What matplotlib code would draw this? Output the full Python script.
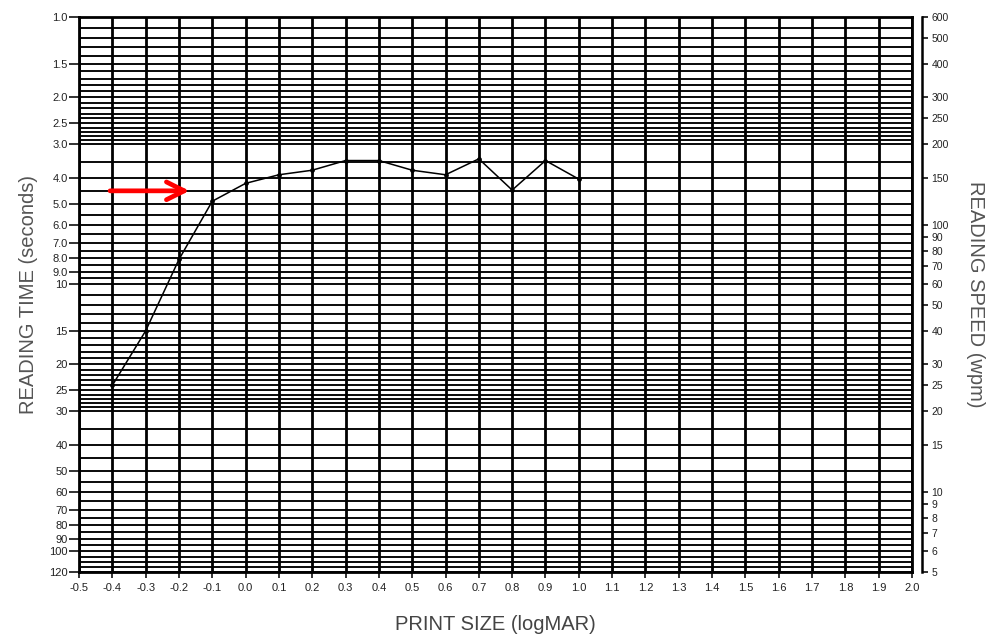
import numpy as np
import matplotlib.pyplot as plt
from matplotlib.ticker import FixedLocator, FixedFormatter, NullLocator

plt.rcParams['font.family'] = ['Liberation Sans', 'DejaVu Sans']

# print size (logMAR) and reading time (s) for each sentence read
print_size = [-0.4, -0.3, -0.2, -0.1, 0.0, 0.1, 0.2, 0.3, 0.4, 0.5, 0.6, 0.7, 0.8, 0.9, 1.0]
reading_time = [24.0, 15.0, 8.1, 4.9, 4.2, 3.9, 3.75, 3.45, 3.45, 3.75, 3.9, 3.4, 4.45, 3.45, 4.05]

time_ticks = [1.0, 1.5, 2.0, 2.5, 3.0, 4.0, 5.0, 6.0, 7.0, 8.0, 9.0, 10, 15, 20, 25, 30,
              40, 50, 60, 70, 80, 90, 100, 120]
time_labels = ['1.0', '1.5', '2.0', '2.5', '3.0', '4.0', '5.0', '6.0', '7.0', '8.0', '9.0',
               '10', '15', '20', '25', '30', '40', '50', '60', '70', '80', '90', '100', '120']
speed_ticks = [600, 500, 400, 300, 250, 200, 150, 100, 90, 80, 70, 60, 50, 40, 30, 25,
               20, 15, 10, 9, 8, 7, 6, 5]
logmar_ticks = np.round(np.arange(-0.5, 2.01, 0.1), 1)

# horizontal rules of the chart form
rules = np.concatenate([np.arange(1.0, 3.0, 0.1), np.arange(3.0, 10.0, 0.5),
                        np.arange(10, 30, 1), np.arange(30, 121, 5)])

fig = plt.figure(figsize=(9.92, 6.34), dpi=100)
ax = fig.add_axes([0.0796, 0.0978, 0.8398, 0.8754])

for t in rules:
    ax.axhline(t, color='black', lw=1.35, zorder=1)
for x in logmar_ticks:
    ax.axvline(x, color='black', lw=2.0, zorder=1)

ax.plot(print_size, reading_time, color='black', lw=1.1, marker='o', ms=2.4, zorder=3)

ax.set_yscale('log')
ax.set_ylim(120, 1)
ax.set_xlim(-0.5, 2.0)
ax.yaxis.set_major_locator(FixedLocator(time_ticks))
ax.yaxis.set_major_formatter(FixedFormatter(time_labels))
ax.yaxis.set_minor_locator(NullLocator())
ax.set_xticks(logmar_ticks)
ax.set_xticklabels(['%.1f' % (v + 0.0) if abs(v) > 1e-9 else '0.0' for v in logmar_ticks])
ax.tick_params(axis='y', direction='out', length=7, width=1.3, pad=1, labelsize=8, colors='#222')
ax.tick_params(axis='x', direction='out', length=4, width=1.3, pad=4, labelsize=8, colors='#222')
for s in ax.spines.values():
    s.set_linewidth(2.0)

ax.set_ylabel('READING TIME (seconds)', fontsize=14.5, color='#555', labelpad=8)
ax.set_xlabel('PRINT SIZE (logMAR)', fontsize=14.5, color='#444', labelpad=16)

# reading speed scale, 10 words per sentence
ax2 = ax.twinx()
ax2.set_yscale('log')
ax2.set_ylim(5, 600)
ax2.yaxis.set_major_locator(FixedLocator(speed_ticks))
ax2.yaxis.set_major_formatter(FixedFormatter([str(v) for v in speed_ticks]))
ax2.yaxis.set_minor_locator(NullLocator())
ax2.spines['right'].set_position(('outward', 7))
ax2.spines['right'].set_linewidth(1.8)
for k in ['top', 'left', 'bottom']:
    ax2.spines[k].set_visible(False)
ax2.tick_params(axis='y', direction='out', length=4, width=1.3, pad=3, labelsize=7.5, colors='#222')
ax2.set_ylabel('READING SPEED (wpm)', fontsize=14.5, color='#555', rotation=270, labelpad=26)

ax.annotate('', xy=(-0.16, 4.48), xytext=(-0.415, 4.48),
            arrowprops=dict(arrowstyle='->', color='red', lw=3.4, mutation_scale=32),
            zorder=5)

fig.savefig('out.png', dpi=100)
